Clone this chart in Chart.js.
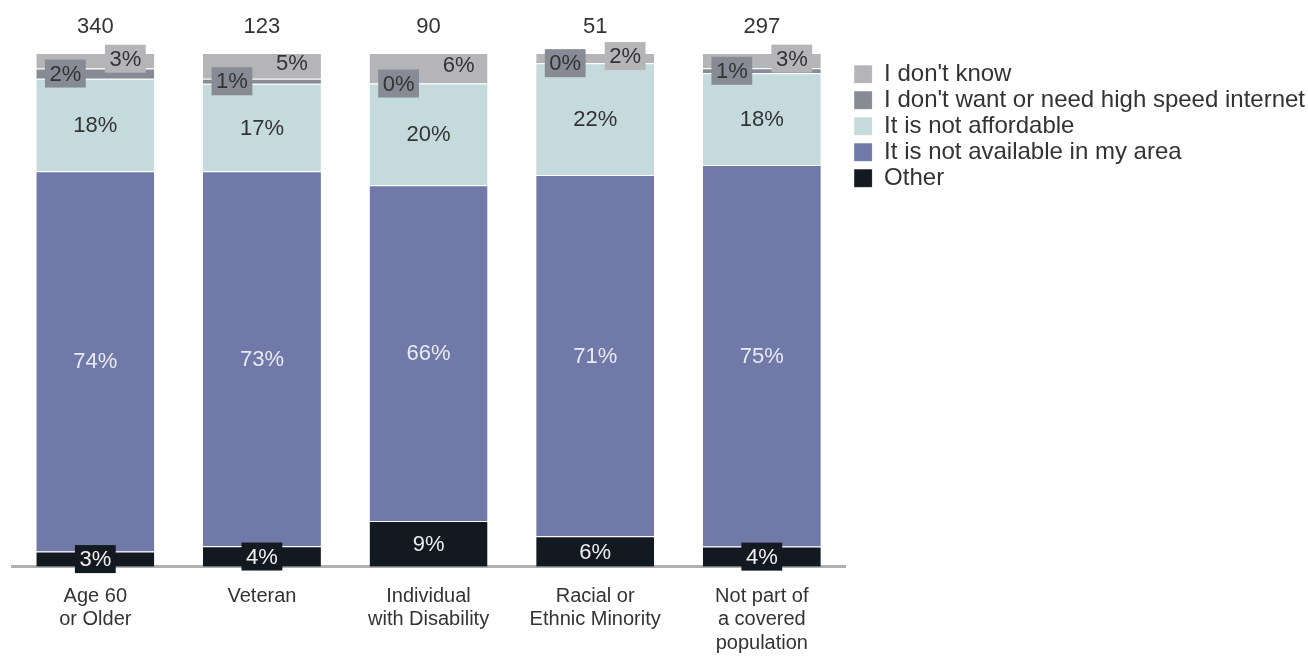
<!DOCTYPE html>
<html>
<head>
<meta charset="utf-8">
<script src="https://cdn.jsdelivr.net/npm/chart.js@4"></script>
<style>
  body { margin: 0; background: #fff; }
  #wrap { width: 1308px; height: 667px; }
</style>
</head>
<body>
<div id="wrap"><canvas id="chart"></canvas></div>
<script>
// groups and number of respondents
var categories = [['Age 60', 'or Older'], ['Veteran'], ['Individual', 'with Disability'], ['Racial or', 'Ethnic Minority'], ['Not part of', 'a covered', 'population']];
var respondents = [340, 123, 90, 51, 297];

// percent per reason (bottom to top of the stack)
var other = [3, 4, 9, 6, 4];
var notAvailable = [74, 73, 66, 71, 75];
var notAffordable = [18, 17, 20, 22, 18];
var dontWant = [2, 1, 0, 0, 1];
var dontKnow = [3, 5, 6, 2, 3];

var FONT = '"Liberation Sans", Arial, sans-serif';

// rounded percents can add up to 101, so scale each bar to 100
function share(arr) {
    return arr.map(function (v, i) {
        var sum = other[i] + notAvailable[i] + notAffordable[i] + dontWant[i] + dontKnow[i];
        return v / sum * 100;
    });
}

function box(ctx, cx, cy, text, bg, fg) {
    var w = ctx.measureText(text).width + 9;
    var h = 28;
    ctx.fillStyle = bg;
    ctx.fillRect(cx - w / 2, cy - h / 2, w, h);
    ctx.fillStyle = fg;
    ctx.fillText(text, cx, cy + 1);
}

var segLabels = {
    id: 'segLabels',
    afterLayout: function (chart) {
        // small gap between the axis end and the legend
        chart.legend.left += 7;
        chart.legend.right += 7;
    },
    afterDatasetsDraw: function (chart) {
        var ctx = chart.ctx;
        ctx.save();
        ctx.font = '22px ' + FONT;
        ctx.textAlign = 'center';
        ctx.textBaseline = 'middle';
        chart.data.datasets.forEach(function (ds, di) {
            var meta = chart.getDatasetMeta(di);
            meta.data.forEach(function (bar, i) {
                var v = ds.raw[i];
                var p = bar.getProps(['x', 'y', 'base', 'width'], true);
                var cy = (p.y + p.base) / 2;
                var left = p.x - p.width / 2;
                var right = p.x + p.width / 2;
                var txt = v + '%';
                if (di == 0) {
                    if (v < 5) box(ctx, p.x, cy, txt, ds.backgroundColor, '#f0f0f0');
                    else { ctx.fillStyle = '#ececec'; ctx.fillText(txt, p.x, cy + 1); }
                } else if (di == 1) {
                    ctx.fillStyle = '#e8eaf4';
                    ctx.fillText(txt, p.x, cy + 1);
                } else if (di == 2) {
                    ctx.fillStyle = '#333';
                    ctx.fillText(txt, p.x, cy + 1);
                } else if (di == 3) {
                    box(ctx, left + 29, cy, txt, ds.backgroundColor, '#333');
                } else {
                    if (v < 5) box(ctx, right - 29, cy - 2, txt, ds.backgroundColor, '#333');
                    else { ctx.fillStyle = '#333'; ctx.fillText(txt, right - 29, cy - 2); }
                }
            });
        });
        // respondents above each bar
        ctx.fillStyle = '#333';
        chart.getDatasetMeta(0).data.forEach(function (bar, i) {
            ctx.fillText(respondents[i], bar.x, chart.chartArea.top - 26);
        });
        ctx.restore();
    }
};

function makeSet(label, arr, color) {
    return {
        label: label,
        data: share(arr),
        raw: arr,
        backgroundColor: color,
        borderColor: 'rgba(255,255,255,0.6)',
        borderWidth: { top: 1 },
        borderSkipped: false,
        categoryPercentage: 1,
        barPercentage: 0.708
    };
}

var ctx = document.getElementById('chart').getContext('2d');
var myChart = new Chart(ctx, {
    type: 'bar',
    data: {
        labels: categories,
        datasets: [
            makeSet('Other', other, '#131920'),
            makeSet('It is not available in my area', notAvailable, '#7079a8'),
            makeSet('It is not affordable', notAffordable, '#c5dadd'),
            makeSet("I don't want or need high speed internet", dontWant, '#878b95'),
            makeSet("I don't know", dontKnow, '#b5b5b7')
        ]
    },
    options: {
        responsive: true,
        maintainAspectRatio: false,
        animation: false,
        devicePixelRatio: 1,
        layout: { padding: { top: 53, left: 12, bottom: -6, right: 0 } },
        scales: {
            x: {
                stacked: true,
                grid: { display: false, drawTicks: false },
                border: { display: true, color: '#b0b0b0', width: 3 },
                ticks: {
                    color: '#333',
                    padding: 18,
                    maxRotation: 0,
                    autoSkip: false,
                    font: { size: 20, family: FONT, lineHeight: 1.17 }
                }
            },
            y: {
                stacked: true,
                display: false,
                min: 0,
                max: 100
            }
        },
        plugins: {
            tooltip: { enabled: false },
            legend: {
                position: 'right',
                align: 'start',
                reverse: true,
                title: { display: true, text: ' ', font: { size: 1 }, padding: 3 },
                labels: {
                    boxWidth: 18,
                    boxHeight: 18,
                    padding: 2,
                    color: '#333',
                    font: { size: 24, family: FONT }
                }
            }
        }
    },
    plugins: [segLabels]
});
</script>
</body>
</html>
